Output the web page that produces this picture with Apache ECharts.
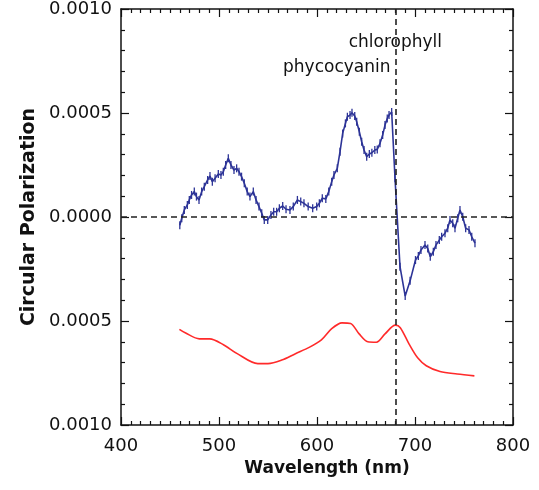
<!DOCTYPE html>
<html><head><meta charset="utf-8">
<script src="https://cdn.jsdelivr.net/npm/echarts@6/dist/echarts.min.js"></script>
<style>html,body{margin:0;padding:0;background:#fff}#c{width:539px;height:490px}</style>
</head><body><div id="c"></div>
<script>
// Measured circular polarization (units of 1e-4)
const cpWavelength = [460,462,464.6,467.7,469.7,472,474.8,477,479.6,482.3,485,488.4,490.8,493.2,496,499.3,502,504.4,506.8,509.5,512.2,515.3,518,520.4,523,525.8,528.8,531.6,535,537.8,540.8,543.6,546.2,549.7,553,555.8,558.8,561.6,565,568.4,572.4,575.8,580,583.4,586.7,591,595.6,599.7,602.4,605.4,609,612,615,617.3,620.7,623.5,626.2,629,631,633.7,635.7,638.5,640.5,643.2,645.6,648,650.7,653.4,656,659,661.5,664.3,667,669.4,671.7,673.5,676.2,679.6,684.7,690,695,700.5,703.4,706.1,710.2,713,715.6,718.7,721.4,724.8,727.2,730.6,733.4,735.7,738.5,740.8,743.6,745.9,748.7,751.7,755.1,757.9,761.2];
const cpValue = [-0.40,-0.06,0.34,0.58,0.82,1.06,1.22,0.98,0.82,1.22,1.46,1.78,1.97,1.70,1.86,2.07,2.02,2.18,2.50,2.82,2.50,2.26,2.34,2.18,1.94,1.62,1.22,0.98,1.22,0.82,0.50,0.18,-0.14,-0.14,0.10,0.25,0.25,0.42,0.53,0.37,0.34,0.50,0.82,0.74,0.66,0.50,0.42,0.50,0.66,0.90,0.87,1.22,1.70,2.02,2.34,3.14,4.02,4.50,4.82,4.90,5.01,4.86,4.58,4.10,3.62,3.22,2.90,3.03,3.09,3.22,3.25,3.54,3.94,4.42,4.74,4.90,5.05,1.86,-2.39,-3.80,-3.07,-2.07,-1.87,-1.59,-1.35,-1.51,-1.91,-1.67,-1.35,-1.11,-0.95,-0.78,-0.54,-0.14,-0.30,-0.54,-0.06,0.34,0.01,-0.54,-0.62,-0.95,-1.26];
// Absorbance spectrum (arbitrary, drawn in the same axis units, 1e-4)
const absWavelength = [459.6,466,480,490.5,504.5,518.6,539.6,550,564,578,592,604.5,615,625.5,634.3,643,651.8,660.6,669.4,680,685,694,702.7,711.5,725.5,743,760.6];
const absValue = [-5.40,-5.58,-5.86,-5.86,-6.14,-6.57,-7.05,-7.05,-6.88,-6.57,-6.27,-5.91,-5.37,-5.09,-5.12,-5.62,-6.00,-6.02,-5.62,-5.20,-5.32,-6.11,-6.77,-7.15,-7.43,-7.55,-7.64];
const xTicks = [400,500,600,700,800];
const yTicks = [-0.0010,-0.0005,0.0000,0.0005,0.0010];
const chlorophyllWl = 680;
const annotations = [
  {text:'chlorophyll', wl:680, val:0.000837, align:'center'},
  {text:'phycocyanin', wl:675, val:0.000720, align:'right'}
];

const SCALE = 1e-4;
const cpData = cpWavelength.map((w,i)=>[w, cpValue[i]*SCALE]);
const absData = absWavelength.map((w,i)=>[w, absValue[i]*SCALE]);
const FONT = 'DejaVu Sans';
function axisStyle(split){
  return {
    axisLine:{show:true, onZero:false, lineStyle:{color:'#111', width:1.5}},
    axisTick:{show:true, inside:true, length:8, lineStyle:{color:'#111', width:1.2}},
    minorTick:{show:true, splitNumber:split, length:4, lineStyle:{color:'#111', width:1.2}},
    splitLine:{show:false}, minorSplitLine:{show:false}
  };
}
const chart = echarts.init(document.getElementById('c'), null, {renderer:'canvas'});
const xMin = xTicks[0], xMax = xTicks[xTicks.length-1];
const yMin = yTicks[0], yMax = yTicks[yTicks.length-1];
chart.setOption({
  animation:false,
  grid:{left:121, right:26, top:9, bottom:65},
  xAxis:[
    Object.assign({type:'value', min:xMin, max:xMax, interval:100, position:'bottom',
      name:'Wavelength (nm)', nameLocation:'middle', nameGap:33,
      nameTextStyle:{fontFamily:FONT, fontWeight:'bold', fontSize:17, color:'#111', padding:[0,0,0,20]},
      axisLabel:{fontFamily:FONT, fontSize:18, color:'#111', margin:12}}, axisStyle(10)),
    Object.assign({type:'value', min:xMin, max:xMax, interval:100, position:'top',
      axisLabel:{show:false}}, axisStyle(10))
  ],
  yAxis:[
    Object.assign({type:'value', min:yMin, max:yMax, interval:0.0005, position:'left',
      name:'Circular Polarization', nameLocation:'middle', nameGap:80,
      nameTextStyle:{fontFamily:FONT, fontWeight:'bold', fontSize:19, color:'#111'},
      axisLabel:{fontFamily:FONT, fontSize:18, color:'#111', margin:9,
        formatter:v=>Math.abs(v).toFixed(4)}}, axisStyle(5)),
    Object.assign({type:'value', min:yMin, max:yMax, interval:0.0005, position:'right',
      axisLabel:{show:false}}, axisStyle(5))
  ],
  series:[
    {type:'line', data:absData, showSymbol:false, symbol:'none',
      lineStyle:{color:'#ff2a2a', width:1.6}, smooth:0.3, z:2,
      markLine:{silent:true, symbol:['none','none'], label:{show:false},
        lineStyle:{color:'#222', width:1.6, type:[6,4]},
        data:[{yAxis:0},{xAxis:chlorophyllWl}]}},
    {type:'line', data:cpData, symbol:'rect', symbolSize:[1.3,8], showAllSymbol:true,
      itemStyle:{color:'#2d3497'}, lineStyle:{color:'#2d3497', width:1.6}, z:3}
  ]
});
const g = annotations.map(a=>{
  const p = chart.convertToPixel({xAxisIndex:0, yAxisIndex:0}, [a.wl, a.val]);
  return {type:'text', x:p[0], y:p[1], style:{text:a.text, fill:'#111', font:'17px "DejaVu Sans"', align:a.align, verticalAlign:'middle'}};
});
chart.setOption({graphic:g});
</script></body></html>
